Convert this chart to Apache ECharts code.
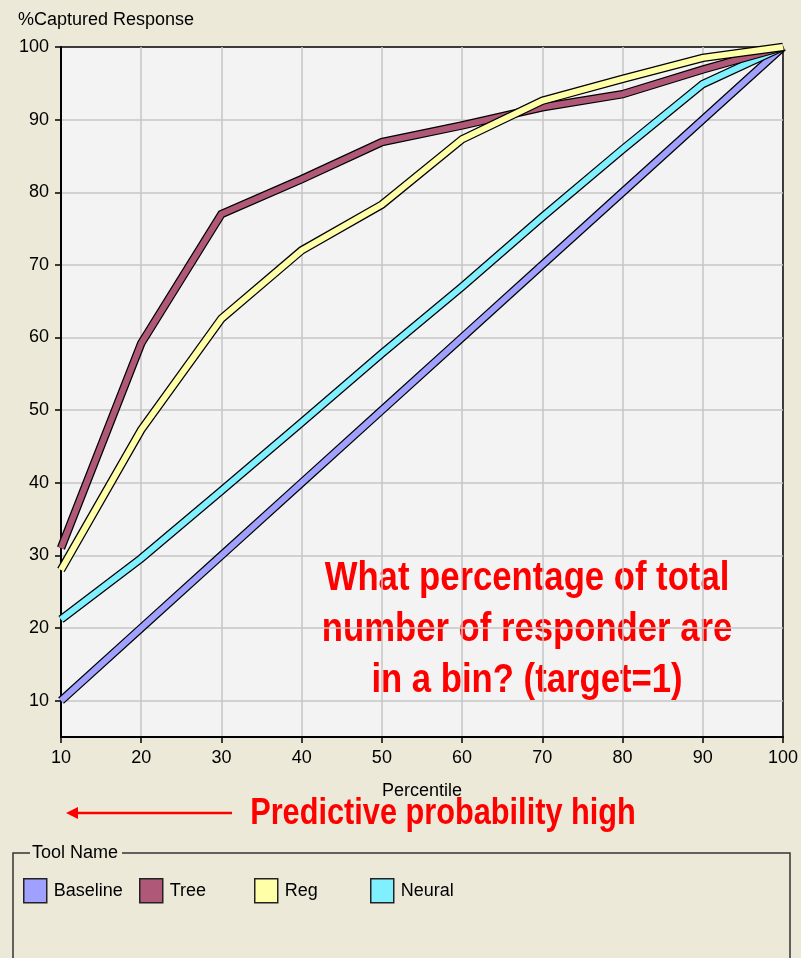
<!DOCTYPE html>
<html>
<head>
<meta charset="utf-8">
<script src="https://cdn.jsdelivr.net/npm/echarts@6/dist/echarts.min.js"></script>
<style>
  html, body { margin: 0; padding: 0; background: #ece9d8; }
  #chart { width: 801px; height: 958px; }
</style>
</head>
<body>
<div id="chart"></div>
<script>
// data
const percentile = [10, 20, 30, 40, 50, 60, 70, 80, 90, 100];
const baseline = [10, 20, 30, 40, 50, 60, 70, 80, 90, 100];
const neural = [21.2, 29.6, 38.9, 48.3, 57.8, 67, 76.6, 85.9, 94.9, 100];
const tree = [31, 59.2, 77, 81.8, 86.9, 89.2, 91.7, 93.5, 96.9, 100];
const reg = [28, 47.3, 62.6, 72, 78.3, 87.3, 92.6, 95.6, 98.5, 100];
const yTicks = [10, 20, 30, 40, 50, 60, 70, 80, 90, 100];

const names = ['Baseline', 'Tree', 'Reg', 'Neural'];
const colors = { Baseline: '#a0a0ff', Tree: '#b05878', Reg: '#ffffa8', Neural: '#80f0ff' };
const values = { Baseline: baseline, Tree: tree, Reg: reg, Neural: neural };
const drawOrder = ['Baseline', 'Neural', 'Tree', 'Reg'];

const FONT = 'Liberation Sans, Arial, sans-serif';

function pairs(arr) {
  return percentile.map((p, i) => [p, arr[i]]);
}

// each line = black outline underneath + coloured band on top
let series = [];
drawOrder.forEach(name => {
  series.push({
    name: name + ' edge',
    type: 'line',
    data: pairs(values[name]),
    symbol: 'none',
    clip: false,
    silent: true,
    color: '#000',
    lineStyle: { color: '#000', width: 8.5, join: 'miter' }
  });
  series.push({
    name: name,
    type: 'line',
    data: pairs(values[name]),
    symbol: 'none',
    clip: false,
    color: colors[name],
    itemStyle: { color: colors[name] },
    lineStyle: { color: colors[name], width: 6, join: 'miter' }
  });
});

const legendLeft = [23, 139, 254, 370];
const legends = names.map((n, i) => ({
  data: [n],
  left: legendLeft[i],
  top: 878,
  padding: 0,
  icon: 'rect',
  itemWidth: 23,
  itemHeight: 24,
  itemStyle: { borderColor: '#222', borderWidth: 1.5 },
  textStyle: { fontFamily: FONT, fontSize: 18, color: '#000', padding: [0, 0, 0, 2] },
  selectedMode: false
}));

const option = {
  animation: false,
  backgroundColor: '#ece9d8',
  textStyle: { fontFamily: FONT },
  grid: {
    left: 61, right: 17, top: 47, bottom: 221,
    show: true,
    backgroundColor: '#f3f3f3',
    borderColor: '#000',
    borderWidth: 1.5
  },
  legend: legends,
  xAxis: {
    type: 'value',
    min: 10, max: 100, interval: 10,
    name: 'Percentile',
    nameLocation: 'middle',
    nameGap: 45,
    nameTextStyle: { fontFamily: FONT, fontSize: 18, color: '#000' },
    axisLine: { lineStyle: { color: '#000', width: 2 } },
    axisTick: { show: true, length: 6, lineStyle: { color: '#000', width: 1.5 } },
    axisLabel: { fontFamily: FONT, fontSize: 18, color: '#000', margin: 12 },
    splitLine: { show: true, showMaxLine: false, lineStyle: { color: '#c6c6c6', width: 1.5 } }
  },
  yAxis: {
    type: 'value',
    min: 5, max: 100, interval: 5,
    axisLine: { show: true, lineStyle: { color: '#000', width: 2 } },
    axisTick: { show: true, length: 6, customValues: yTicks, lineStyle: { color: '#000', width: 1.5 } },
    axisLabel: { fontFamily: FONT, fontSize: 18, color: '#000', margin: 12, customValues: yTicks },
    splitLine: { show: true, showMaxLine: false, lineStyle: { color: '#c6c6c6', width: 1.5 } }
  },
  graphic: [
    { type: 'text', left: 18, top: 11,
      style: { text: '%Captured Response', font: '18px ' + FONT, fill: '#000' } },
    // narrow bold look: regular bold squeezed horizontally
    { type: 'text', x: 527, y: 630, scaleX: 0.867,
      style: { text: 'What percentage of total\nnumber of responder are\nin a bin? (target=1)',
        font: 'bold 40px ' + FONT, fill: '#ff0000', align: 'center', verticalAlign: 'middle', lineHeight: 51 } },
    { type: 'text', x: 443, y: 814, scaleX: 0.83,
      style: { text: 'Predictive probability high', font: 'bold 37px ' + FONT, fill: '#ff0000',
        align: 'center', verticalAlign: 'middle' } },
    { type: 'line', shape: { x1: 232, y1: 813, x2: 74, y2: 813 },
      style: { stroke: '#ff0000', lineWidth: 2.5 } },
    { type: 'polygon', shape: { points: [[66, 813], [78, 807], [78, 819]] },
      style: { fill: '#ff0000' } },
    // group box
    { type: 'polyline', shape: { points: [[13, 962], [13, 853], [30, 853]] },
      style: { stroke: '#333', lineWidth: 1.5, fill: null } },
    { type: 'polyline', shape: { points: [[122, 853], [790, 853], [790, 962]] },
      style: { stroke: '#333', lineWidth: 1.5, fill: null } },
    { type: 'text', x: 32, y: 853,
      style: { text: 'Tool Name', font: '18px ' + FONT, fill: '#000', verticalAlign: 'middle' } }
  ],
  series: series
};

const chart = echarts.init(document.getElementById('chart'));
chart.setOption(option);
</script>
</body>
</html>
